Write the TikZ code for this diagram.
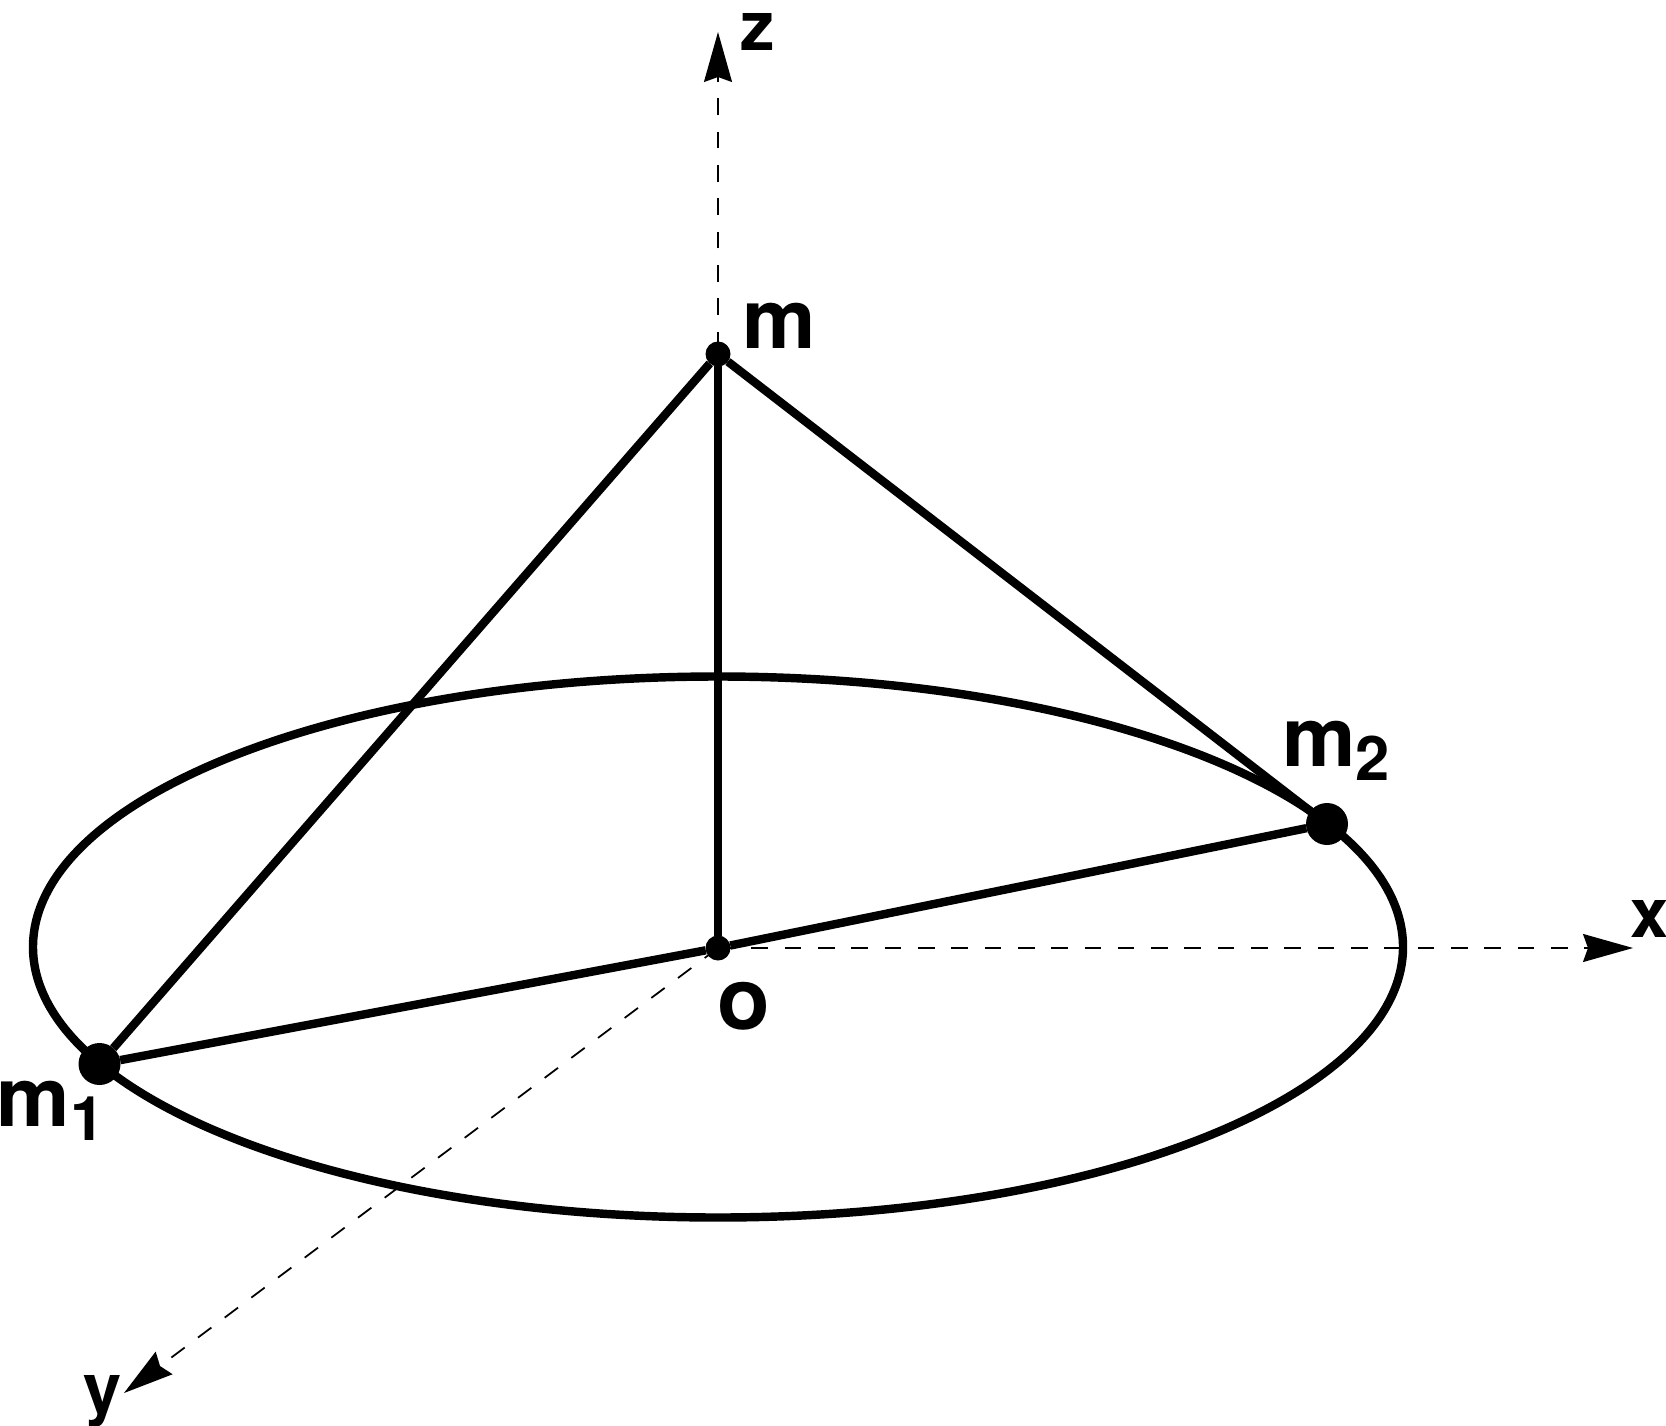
\documentclass[tikz,border=0pt]{standalone}
\usepackage{fontspec}
\setmainfont{TeX Gyre Heros}
\usetikzlibrary{arrows.meta}
\newcommand{\massname}[1]{m\raisebox{-4.1pt}{\fontsize{17.5}{20}\selectfont #1}}
\begin{document}
\begin{tikzpicture}
    [
      smalldot/.style = {circle, fill=black, inner sep=0pt, outer sep=0pt, minimum size=0.25cm},
      bigdot/.style = {circle, fill=black, inner sep=0pt, outer sep=0pt, minimum size=0.42cm},
      name text/.style = {anchor=base west, inner sep=0pt, font=\fontsize{23.5}{28}\selectfont\bfseries},
      axis text/.style = {anchor=base west, inner sep=0pt, font=\fontsize{19.5}{23}\selectfont\bfseries},
      axis/.style = {line width=0.5pt, dash pattern=on 4.74pt off 4.74pt, -{Stealth[length=0.5cm, width=0.28cm, inset=0.05cm]}},
      rod/.style = {line width=2.4pt},
    ]

    \useasboundingbox (0,0) rectangle (16.66,14.25);

    \node[smalldot] (O) at (7.18,4.77) {};
    \node[smalldot] (m) at (7.18,10.71) {};
    \node[bigdot] (m1) at (0.995,3.61) {};
    \node[bigdot] (m2) at (13.27,6.01) {};

    \coordinate (centre) at (7.18,4.78);
    \coordinate (zend) at (7.18,13.93);
    \coordinate (xend) at (16.33,4.77);
    \coordinate (yend) at (1.24,0.32);

    \draw[axis] (O.center) -- (zend);
    \draw[axis] (O.center) -- (xend);
    \draw[axis] (O.center) -- (yend);

    \draw[rod] (centre) ellipse (6.85 and 2.705);
    \draw[rod] (m) -- (O);
    \draw[rod] (m) -- (m1);
    \draw[rod] (m) -- (m2);
    \draw[rod] (O) -- (m1);
    \draw[rod] (O) -- (m2);

    \node[axis text] (zname) at (7.40,13.74) {z};
    \node[axis text] (xname) at (16.30,4.88) {x};
    \node[axis text] (yname) at (0.825,0.13) {y};
    \node[name text, font=\fontsize{24.5}{28}\selectfont\bfseries] (oname) at (7.17,3.955) {o};
    \node[name text] (mname) at (7.415,10.76) {m};
    \node[name text] (m1name) at (-0.04,2.99) {\massname{1}};
    \node[name text] (m2name) at (12.815,6.59) {\massname{2}};

  \end{tikzpicture}
\end{document}
